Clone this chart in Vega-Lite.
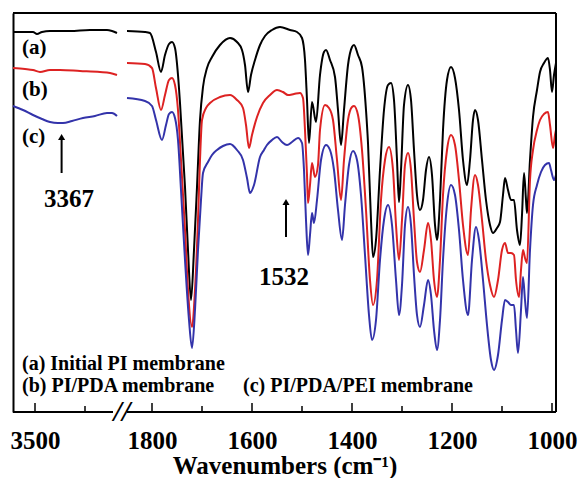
{
  "$schema": "https://vega.github.io/schema/vega-lite/v6.json",
  "width": 543,
  "height": 399,
  "autosize": "none",
  "padding": {"left": 13, "top": 13, "right": 28, "bottom": 66},
  "background": "white",
  "config": {"view": {"stroke": null}, "font": "Liberation Serif, Times New Roman, serif"},
  "datasets": {
    "one": [{}],
    "ticks": [{"v":3500,"k":"major"},{"v":3250,"k":"minor"},{"v":1800,"k":"major"},{"v":1700,"k":"minor"},{"v":1600,"k":"major"},{"v":1500,"k":"minor"},{"v":1400,"k":"major"},{"v":1300,"k":"minor"},{"v":1200,"k":"major"},{"v":1100,"k":"minor"},{"v":1000,"k":"major"}],
    "spec": [
      {"s":"a","g":"a1","w":3610,"t":380},{"s":"a","g":"a1","w":3575,"t":380},{"s":"a","g":"a1","w":3535,"t":380},{"s":"a","g":"a1","w":3510,"t":380},{"s":"a","g":"a1","w":3490,"t":378},{"s":"a","g":"a1","w":3465,"t":380},{"s":"a","g":"a1","w":3425,"t":381},{"s":"a","g":"a1","w":3325,"t":381},{"s":"a","g":"a1","w":3225,"t":382},{"s":"a","g":"a1","w":3140,"t":382},{"s":"a","g":"a1","w":3115,"t":381},{"s":"a","g":"a1","w":3090,"t":379},
      {"s":"b","g":"b1","w":3610,"t":344},{"s":"b","g":"b1","w":3550,"t":343},{"s":"b","g":"b1","w":3510,"t":342},{"s":"b","g":"b1","w":3475,"t":340},{"s":"b","g":"b1","w":3425,"t":342},{"s":"b","g":"b1","w":3375,"t":342},{"s":"b","g":"b1","w":3275,"t":341},{"s":"b","g":"b1","w":3175,"t":340},{"s":"b","g":"b1","w":3125,"t":339},{"s":"b","g":"b1","w":3090,"t":337},
      {"s":"c","g":"c1","w":3610,"t":306},{"s":"c","g":"c1","w":3560,"t":302},{"s":"c","g":"c1","w":3510,"t":297},{"s":"c","g":"c1","w":3465,"t":293},{"s":"c","g":"c1","w":3425,"t":290},{"s":"c","g":"c1","w":3385,"t":289},{"s":"c","g":"c1","w":3360,"t":289},{"s":"c","g":"c1","w":3315,"t":291},{"s":"c","g":"c1","w":3260,"t":294},{"s":"c","g":"c1","w":3200,"t":296},{"s":"c","g":"c1","w":3140,"t":299},{"s":"c","g":"c1","w":3115,"t":299},{"s":"c","g":"c1","w":3090,"t":296},

      {"s":"a","g":"a2","w":1850,"t":381},{"s":"a","g":"a2","w":1814,"t":380},{"s":"a","g":"a2","w":1804,"t":379},{"s":"a","g":"a2","w":1792,"t":360},{"s":"a","g":"a2","w":1782,"t":340},{"s":"a","g":"a2","w":1774,"t":357},{"s":"a","g":"a2","w":1766,"t":368},{"s":"a","g":"a2","w":1760,"t":370},{"s":"a","g":"a2","w":1754,"t":364},{"s":"a","g":"a2","w":1748,"t":337},{"s":"a","g":"a2","w":1744,"t":309},{"s":"a","g":"a2","w":1734,"t":225},{"s":"a","g":"a2","w":1728,"t":162},{"s":"a","g":"a2","w":1722,"t":112},{"s":"a","g":"a2","w":1716,"t":162},{"s":"a","g":"a2","w":1710,"t":225},{"s":"a","g":"a2","w":1704,"t":292},{"s":"a","g":"a2","w":1698,"t":325},{"s":"a","g":"a2","w":1690,"t":344},{"s":"a","g":"a2","w":1680,"t":355},{"s":"a","g":"a2","w":1664,"t":367},{"s":"a","g":"a2","w":1644,"t":374},{"s":"a","g":"a2","w":1630,"t":370},{"s":"a","g":"a2","w":1620,"t":362},{"s":"a","g":"a2","w":1614,"t":347},{"s":"a","g":"a2","w":1608,"t":320},{"s":"a","g":"a2","w":1602,"t":337},{"s":"a","g":"a2","w":1594,"t":352},{"s":"a","g":"a2","w":1584,"t":367},{"s":"a","g":"a2","w":1574,"t":376},{"s":"a","g":"a2","w":1560,"t":382},{"s":"a","g":"a2","w":1544,"t":385},{"s":"a","g":"a2","w":1524,"t":382},{"s":"a","g":"a2","w":1510,"t":380},{"s":"a","g":"a2","w":1500,"t":374},{"s":"a","g":"a2","w":1494,"t":352},{"s":"a","g":"a2","w":1490,"t":312},{"s":"a","g":"a2","w":1486,"t":269},{"s":"a","g":"a2","w":1480,"t":310},{"s":"a","g":"a2","w":1472,"t":290},{"s":"a","g":"a2","w":1464,"t":337},{"s":"a","g":"a2","w":1456,"t":360},{"s":"a","g":"a2","w":1452,"t":362},{"s":"a","g":"a2","w":1444,"t":352},{"s":"a","g":"a2","w":1434,"t":335},{"s":"a","g":"a2","w":1428,"t":302},{"s":"a","g":"a2","w":1422,"t":267},{"s":"a","g":"a2","w":1416,"t":302},{"s":"a","g":"a2","w":1408,"t":347},{"s":"a","g":"a2","w":1400,"t":365},{"s":"a","g":"a2","w":1396,"t":367},{"s":"a","g":"a2","w":1388,"t":357},{"s":"a","g":"a2","w":1380,"t":345},{"s":"a","g":"a2","w":1372,"t":302},{"s":"a","g":"a2","w":1368,"t":269},{"s":"a","g":"a2","w":1362,"t":192},{"s":"a","g":"a2","w":1358,"t":155},{"s":"a","g":"a2","w":1352,"t":172},{"s":"a","g":"a2","w":1344,"t":242},{"s":"a","g":"a2","w":1336,"t":302},{"s":"a","g":"a2","w":1328,"t":327},{"s":"a","g":"a2","w":1322,"t":329},{"s":"a","g":"a2","w":1316,"t":312},{"s":"a","g":"a2","w":1310,"t":252},{"s":"a","g":"a2","w":1306,"t":210},{"s":"a","g":"a2","w":1302,"t":242},{"s":"a","g":"a2","w":1296,"t":307},{"s":"a","g":"a2","w":1288,"t":327},{"s":"a","g":"a2","w":1282,"t":312},{"s":"a","g":"a2","w":1276,"t":262},{"s":"a","g":"a2","w":1270,"t":217},{"s":"a","g":"a2","w":1264,"t":202},{"s":"a","g":"a2","w":1258,"t":212},{"s":"a","g":"a2","w":1252,"t":242},{"s":"a","g":"a2","w":1246,"t":255},{"s":"a","g":"a2","w":1240,"t":237},{"s":"a","g":"a2","w":1234,"t":187},{"s":"a","g":"a2","w":1230,"t":172},{"s":"a","g":"a2","w":1224,"t":212},{"s":"a","g":"a2","w":1218,"t":282},{"s":"a","g":"a2","w":1210,"t":332},{"s":"a","g":"a2","w":1202,"t":345},{"s":"a","g":"a2","w":1194,"t":334},{"s":"a","g":"a2","w":1186,"t":302},{"s":"a","g":"a2","w":1178,"t":252},{"s":"a","g":"a2","w":1170,"t":227},{"s":"a","g":"a2","w":1164,"t":252},{"s":"a","g":"a2","w":1158,"t":292},{"s":"a","g":"a2","w":1154,"t":302},{"s":"a","g":"a2","w":1148,"t":292},{"s":"a","g":"a2","w":1140,"t":252},{"s":"a","g":"a2","w":1132,"t":212},{"s":"a","g":"a2","w":1124,"t":187},{"s":"a","g":"a2","w":1118,"t":179},{"s":"a","g":"a2","w":1110,"t":184},{"s":"a","g":"a2","w":1104,"t":190},{"s":"a","g":"a2","w":1098,"t":217},{"s":"a","g":"a2","w":1094,"t":234},{"s":"a","g":"a2","w":1088,"t":222},{"s":"a","g":"a2","w":1082,"t":212},{"s":"a","g":"a2","w":1076,"t":212},{"s":"a","g":"a2","w":1070,"t":182},{"s":"a","g":"a2","w":1064,"t":167},{"s":"a","g":"a2","w":1060,"t":197},{"s":"a","g":"a2","w":1056,"t":239},{"s":"a","g":"a2","w":1052,"t":212},{"s":"a","g":"a2","w":1050,"t":199},{"s":"a","g":"a2","w":1044,"t":252},{"s":"a","g":"a2","w":1038,"t":295},{"s":"a","g":"a2","w":1030,"t":322},{"s":"a","g":"a2","w":1024,"t":340},{"s":"a","g":"a2","w":1016,"t":349},{"s":"a","g":"a2","w":1008,"t":354},{"s":"a","g":"a2","w":1004,"t":342},{"s":"a","g":"a2","w":1000,"t":320},{"s":"a","g":"a2","w":996,"t":337},{"s":"a","g":"a2","w":992,"t":349},

      {"s":"b","g":"b2","w":1850,"t":349},{"s":"b","g":"b2","w":1814,"t":348},{"s":"b","g":"b2","w":1800,"t":344},{"s":"b","g":"b2","w":1792,"t":324},{"s":"b","g":"b2","w":1782,"t":302},{"s":"b","g":"b2","w":1774,"t":317},{"s":"b","g":"b2","w":1766,"t":332},{"s":"b","g":"b2","w":1760,"t":334},{"s":"b","g":"b2","w":1754,"t":327},{"s":"b","g":"b2","w":1748,"t":302},{"s":"b","g":"b2","w":1742,"t":252},{"s":"b","g":"b2","w":1734,"t":182},{"s":"b","g":"b2","w":1728,"t":122},{"s":"b","g":"b2","w":1720,"t":85},{"s":"b","g":"b2","w":1714,"t":122},{"s":"b","g":"b2","w":1708,"t":192},{"s":"b","g":"b2","w":1704,"t":252},{"s":"b","g":"b2","w":1700,"t":292},{"s":"b","g":"b2","w":1692,"t":304},{"s":"b","g":"b2","w":1684,"t":309},{"s":"b","g":"b2","w":1664,"t":315},{"s":"b","g":"b2","w":1644,"t":317},{"s":"b","g":"b2","w":1630,"t":312},{"s":"b","g":"b2","w":1618,"t":304},{"s":"b","g":"b2","w":1612,"t":287},{"s":"b","g":"b2","w":1606,"t":264},{"s":"b","g":"b2","w":1600,"t":277},{"s":"b","g":"b2","w":1590,"t":295},{"s":"b","g":"b2","w":1578,"t":309},{"s":"b","g":"b2","w":1564,"t":317},{"s":"b","g":"b2","w":1550,"t":322},{"s":"b","g":"b2","w":1538,"t":320},{"s":"b","g":"b2","w":1528,"t":317},{"s":"b","g":"b2","w":1516,"t":318},{"s":"b","g":"b2","w":1504,"t":319},{"s":"b","g":"b2","w":1498,"t":314},{"s":"b","g":"b2","w":1494,"t":282},{"s":"b","g":"b2","w":1490,"t":237},{"s":"b","g":"b2","w":1488,"t":209},{"s":"b","g":"b2","w":1484,"t":227},{"s":"b","g":"b2","w":1480,"t":249},{"s":"b","g":"b2","w":1474,"t":235},{"s":"b","g":"b2","w":1468,"t":247},{"s":"b","g":"b2","w":1464,"t":282},{"s":"b","g":"b2","w":1454,"t":307},{"s":"b","g":"b2","w":1446,"t":304},{"s":"b","g":"b2","w":1438,"t":292},{"s":"b","g":"b2","w":1430,"t":252},{"s":"b","g":"b2","w":1422,"t":212},{"s":"b","g":"b2","w":1416,"t":252},{"s":"b","g":"b2","w":1408,"t":292},{"s":"b","g":"b2","w":1400,"t":305},{"s":"b","g":"b2","w":1396,"t":306},{"s":"b","g":"b2","w":1388,"t":297},{"s":"b","g":"b2","w":1380,"t":262},{"s":"b","g":"b2","w":1372,"t":202},{"s":"b","g":"b2","w":1364,"t":132},{"s":"b","g":"b2","w":1358,"t":107},{"s":"b","g":"b2","w":1350,"t":132},{"s":"b","g":"b2","w":1342,"t":212},{"s":"b","g":"b2","w":1334,"t":252},{"s":"b","g":"b2","w":1326,"t":265},{"s":"b","g":"b2","w":1318,"t":242},{"s":"b","g":"b2","w":1312,"t":187},{"s":"b","g":"b2","w":1306,"t":152},{"s":"b","g":"b2","w":1300,"t":192},{"s":"b","g":"b2","w":1294,"t":247},{"s":"b","g":"b2","w":1288,"t":259},{"s":"b","g":"b2","w":1282,"t":242},{"s":"b","g":"b2","w":1276,"t":192},{"s":"b","g":"b2","w":1270,"t":150},{"s":"b","g":"b2","w":1264,"t":140},{"s":"b","g":"b2","w":1256,"t":162},{"s":"b","g":"b2","w":1248,"t":189},{"s":"b","g":"b2","w":1242,"t":172},{"s":"b","g":"b2","w":1236,"t":132},{"s":"b","g":"b2","w":1230,"t":115},{"s":"b","g":"b2","w":1224,"t":152},{"s":"b","g":"b2","w":1218,"t":217},{"s":"b","g":"b2","w":1210,"t":262},{"s":"b","g":"b2","w":1202,"t":277},{"s":"b","g":"b2","w":1194,"t":267},{"s":"b","g":"b2","w":1186,"t":232},{"s":"b","g":"b2","w":1178,"t":187},{"s":"b","g":"b2","w":1168,"t":157},{"s":"b","g":"b2","w":1162,"t":202},{"s":"b","g":"b2","w":1154,"t":237},{"s":"b","g":"b2","w":1148,"t":227},{"s":"b","g":"b2","w":1140,"t":192},{"s":"b","g":"b2","w":1132,"t":152},{"s":"b","g":"b2","w":1124,"t":127},{"s":"b","g":"b2","w":1116,"t":115},{"s":"b","g":"b2","w":1108,"t":132},{"s":"b","g":"b2","w":1100,"t":162},{"s":"b","g":"b2","w":1094,"t":169},{"s":"b","g":"b2","w":1088,"t":159},{"s":"b","g":"b2","w":1082,"t":159},{"s":"b","g":"b2","w":1076,"t":157},{"s":"b","g":"b2","w":1072,"t":132},{"s":"b","g":"b2","w":1066,"t":115},{"s":"b","g":"b2","w":1062,"t":142},{"s":"b","g":"b2","w":1058,"t":162},{"s":"b","g":"b2","w":1054,"t":154},{"s":"b","g":"b2","w":1050,"t":149},{"s":"b","g":"b2","w":1044,"t":232},{"s":"b","g":"b2","w":1038,"t":262},{"s":"b","g":"b2","w":1030,"t":282},{"s":"b","g":"b2","w":1024,"t":292},{"s":"b","g":"b2","w":1016,"t":298},{"s":"b","g":"b2","w":1008,"t":300},{"s":"b","g":"b2","w":1004,"t":287},{"s":"b","g":"b2","w":998,"t":264},{"s":"b","g":"b2","w":994,"t":277},{"s":"b","g":"b2","w":992,"t":282},

      {"s":"c","g":"c2","w":1850,"t":314},{"s":"c","g":"c2","w":1814,"t":311},{"s":"c","g":"c2","w":1800,"t":306},{"s":"c","g":"c2","w":1792,"t":292},{"s":"c","g":"c2","w":1780,"t":272},{"s":"c","g":"c2","w":1772,"t":287},{"s":"c","g":"c2","w":1766,"t":298},{"s":"c","g":"c2","w":1760,"t":300},{"s":"c","g":"c2","w":1754,"t":294},{"s":"c","g":"c2","w":1748,"t":272},{"s":"c","g":"c2","w":1742,"t":222},{"s":"c","g":"c2","w":1734,"t":152},{"s":"c","g":"c2","w":1726,"t":92},{"s":"c","g":"c2","w":1720,"t":64},{"s":"c","g":"c2","w":1714,"t":102},{"s":"c","g":"c2","w":1708,"t":162},{"s":"c","g":"c2","w":1702,"t":212},{"s":"c","g":"c2","w":1698,"t":239},{"s":"c","g":"c2","w":1688,"t":250},{"s":"c","g":"c2","w":1680,"t":257},{"s":"c","g":"c2","w":1670,"t":262},{"s":"c","g":"c2","w":1658,"t":266},{"s":"c","g":"c2","w":1644,"t":268},{"s":"c","g":"c2","w":1630,"t":262},{"s":"c","g":"c2","w":1618,"t":252},{"s":"c","g":"c2","w":1610,"t":234},{"s":"c","g":"c2","w":1604,"t":219},{"s":"c","g":"c2","w":1596,"t":227},{"s":"c","g":"c2","w":1584,"t":255},{"s":"c","g":"c2","w":1576,"t":262},{"s":"c","g":"c2","w":1570,"t":267},{"s":"c","g":"c2","w":1560,"t":272},{"s":"c","g":"c2","w":1550,"t":275},{"s":"c","g":"c2","w":1540,"t":270},{"s":"c","g":"c2","w":1530,"t":267},{"s":"c","g":"c2","w":1520,"t":270},{"s":"c","g":"c2","w":1508,"t":274},{"s":"c","g":"c2","w":1500,"t":269},{"s":"c","g":"c2","w":1496,"t":242},{"s":"c","g":"c2","w":1492,"t":192},{"s":"c","g":"c2","w":1488,"t":157},{"s":"c","g":"c2","w":1484,"t":177},{"s":"c","g":"c2","w":1480,"t":199},{"s":"c","g":"c2","w":1476,"t":189},{"s":"c","g":"c2","w":1470,"t":212},{"s":"c","g":"c2","w":1462,"t":252},{"s":"c","g":"c2","w":1452,"t":267},{"s":"c","g":"c2","w":1444,"t":262},{"s":"c","g":"c2","w":1436,"t":242},{"s":"c","g":"c2","w":1428,"t":202},{"s":"c","g":"c2","w":1420,"t":172},{"s":"c","g":"c2","w":1414,"t":207},{"s":"c","g":"c2","w":1406,"t":247},{"s":"c","g":"c2","w":1398,"t":261},{"s":"c","g":"c2","w":1390,"t":252},{"s":"c","g":"c2","w":1382,"t":217},{"s":"c","g":"c2","w":1374,"t":157},{"s":"c","g":"c2","w":1366,"t":97},{"s":"c","g":"c2","w":1360,"t":72},{"s":"c","g":"c2","w":1352,"t":92},{"s":"c","g":"c2","w":1344,"t":152},{"s":"c","g":"c2","w":1336,"t":192},{"s":"c","g":"c2","w":1328,"t":207},{"s":"c","g":"c2","w":1320,"t":187},{"s":"c","g":"c2","w":1312,"t":132},{"s":"c","g":"c2","w":1306,"t":97},{"s":"c","g":"c2","w":1300,"t":127},{"s":"c","g":"c2","w":1294,"t":187},{"s":"c","g":"c2","w":1288,"t":205},{"s":"c","g":"c2","w":1282,"t":187},{"s":"c","g":"c2","w":1276,"t":137},{"s":"c","g":"c2","w":1270,"t":97},{"s":"c","g":"c2","w":1264,"t":85},{"s":"c","g":"c2","w":1256,"t":107},{"s":"c","g":"c2","w":1248,"t":132},{"s":"c","g":"c2","w":1242,"t":117},{"s":"c","g":"c2","w":1236,"t":82},{"s":"c","g":"c2","w":1230,"t":62},{"s":"c","g":"c2","w":1224,"t":92},{"s":"c","g":"c2","w":1218,"t":152},{"s":"c","g":"c2","w":1210,"t":207},{"s":"c","g":"c2","w":1202,"t":227},{"s":"c","g":"c2","w":1194,"t":217},{"s":"c","g":"c2","w":1186,"t":182},{"s":"c","g":"c2","w":1178,"t":132},{"s":"c","g":"c2","w":1168,"t":97},{"s":"c","g":"c2","w":1160,"t":152},{"s":"c","g":"c2","w":1152,"t":185},{"s":"c","g":"c2","w":1146,"t":172},{"s":"c","g":"c2","w":1138,"t":132},{"s":"c","g":"c2","w":1130,"t":87},{"s":"c","g":"c2","w":1122,"t":52},{"s":"c","g":"c2","w":1116,"t":42},{"s":"c","g":"c2","w":1108,"t":57},{"s":"c","g":"c2","w":1100,"t":92},{"s":"c","g":"c2","w":1094,"t":112},{"s":"c","g":"c2","w":1088,"t":110},{"s":"c","g":"c2","w":1082,"t":107},{"s":"c","g":"c2","w":1076,"t":107},{"s":"c","g":"c2","w":1072,"t":82},{"s":"c","g":"c2","w":1068,"t":59},{"s":"c","g":"c2","w":1062,"t":102},{"s":"c","g":"c2","w":1058,"t":135},{"s":"c","g":"c2","w":1054,"t":112},{"s":"c","g":"c2","w":1050,"t":94},{"s":"c","g":"c2","w":1044,"t":162},{"s":"c","g":"c2","w":1038,"t":207},{"s":"c","g":"c2","w":1030,"t":227},{"s":"c","g":"c2","w":1022,"t":240},{"s":"c","g":"c2","w":1014,"t":247},{"s":"c","g":"c2","w":1006,"t":249},{"s":"c","g":"c2","w":1002,"t":242},{"s":"c","g":"c2","w":996,"t":232},{"s":"c","g":"c2","w":992,"t":237}
    ]
  },
  "layer": [
    {
      "data": {"name": "spec"},
      "mark": {"type": "line", "interpolate": "monotone", "strokeWidth": 2},
      "encoding": {
        "x": {
          "field": "w", "type": "quantitative",
          "scale": {"domain": [3610, 3090, 1850, 992], "range": [0, 104, 114, 543], "nice": false, "zero": false},
          "axis": {
            "values": [3500, 1800, 1600, 1400, 1200, 1000],
            "format": "d",
            "domain": false, "grid": false, "ticks": false,
            "labelFont": "Liberation Serif, Times New Roman, serif", "labelFontWeight": "bold", "labelFontSize": 25, "labelColor": "black",
            "labelPadding": 16, "labelFlush": false, "labelOverlap": false,
            "title": "Wavenumbers (cm⁻¹)",
            "titleFont": "Liberation Serif, Times New Roman, serif", "titleFontWeight": "bold", "titleFontSize": 25, "titleColor": "black", "titlePadding": 0
          }
        },
        "y": {
          "field": "t", "type": "quantitative",
          "scale": {"domain": [0, 399], "nice": false, "zero": false},
          "axis": {"domain": true, "domainColor": "black", "domainWidth": 2, "ticks": false, "labels": false, "grid": false, "title": null}
        },
        "color": {
          "field": "s", "type": "nominal",
          "scale": {"domain": ["a", "b", "c"], "range": ["#000000", "#dd2222", "#3333aa"]},
          "legend": null
        },
        "detail": {"field": "g", "type": "nominal"}
      }
    },
    {"data": {"name": "ticks"}, "transform": [{"filter": "datum.k == 'major'"}], "mark": {"type": "rule", "color": "black", "strokeWidth": 1.5}, "encoding": {"x": {"field": "v", "type": "quantitative"}, "y": {"datum": 0}, "y2": {"datum": 9}}},
    {"data": {"name": "ticks"}, "transform": [{"filter": "datum.k == 'minor'"}], "mark": {"type": "rule", "color": "black", "strokeWidth": 1.5}, "encoding": {"x": {"field": "v", "type": "quantitative"}, "y": {"datum": 0}, "y2": {"datum": 6}}},
    {"data": {"name": "one"}, "mark": {"type": "rule", "color": "black", "strokeWidth": 2}, "encoding": {"x": {"datum": 3610}, "x2": {"datum": 992}, "y": {"datum": 399}}},
    {"data": {"name": "one"}, "mark": {"type": "rule", "color": "black", "strokeWidth": 2}, "encoding": {"x": {"datum": 992}, "y": {"datum": 0}, "y2": {"datum": 399}}},
    {"data": {"name": "one"}, "mark": {"type": "rule", "color": "black", "strokeWidth": 2}, "encoding": {"x": {"datum": 3610}, "x2": {"datum": 3110}, "y": {"datum": 0}}},
    {"data": {"name": "one"}, "mark": {"type": "rule", "color": "black", "strokeWidth": 2}, "encoding": {"x": {"datum": 1850}, "x2": {"datum": 992}, "y": {"datum": 0}}},
    {"data": {"name": "one"}, "mark": {"type": "text", "text": "//", "font": "Liberation Serif, Times New Roman, serif", "fontSize": 30, "fontWeight": "bold", "fontStyle": "italic", "baseline": "middle", "align": "center"}, "encoding": {"x": {"datum": 2480}, "y": {"datum": 0}}},
    {"data": {"name": "one"}, "mark": {"type": "rule", "color": "black", "strokeWidth": 2}, "encoding": {"x": {"datum": 3367}, "y": {"datum": 239}, "y2": {"datum": 272}}},
    {"data": {"name": "one"}, "mark": {"type": "point", "shape": "triangle-up", "filled": true, "color": "black", "size": 50, "opacity": 1}, "encoding": {"x": {"datum": 3367}, "y": {"datum": 275}}},
    {"data": {"name": "one"}, "mark": {"type": "rule", "color": "black", "strokeWidth": 2}, "encoding": {"x": {"datum": 1532}, "y": {"datum": 175}, "y2": {"datum": 207}}},
    {"data": {"name": "one"}, "mark": {"type": "point", "shape": "triangle-up", "filled": true, "color": "black", "size": 50, "opacity": 1}, "encoding": {"x": {"datum": 1532}, "y": {"datum": 210}}},
    {"data": {"name": "one"}, "mark": {"type": "text", "text": "3367", "font": "Liberation Serif, Times New Roman, serif", "fontSize": 25, "fontWeight": "bold", "baseline": "middle", "align": "center"}, "encoding": {"x": {"datum": 3330}, "y": {"datum": 213}}},
    {"data": {"name": "one"}, "mark": {"type": "text", "text": "1532", "font": "Liberation Serif, Times New Roman, serif", "fontSize": 25, "fontWeight": "bold", "baseline": "middle", "align": "center"}, "encoding": {"x": {"datum": 1536}, "y": {"datum": 135}}},
    {"data": {"name": "one"}, "mark": {"type": "text", "text": "(a)", "font": "Liberation Serif, Times New Roman, serif", "fontSize": 21, "fontWeight": "bold", "baseline": "middle", "align": "left"}, "encoding": {"x": {"datum": 3565}, "y": {"datum": 364}}},
    {"data": {"name": "one"}, "mark": {"type": "text", "text": "(b)", "font": "Liberation Serif, Times New Roman, serif", "fontSize": 21, "fontWeight": "bold", "baseline": "middle", "align": "left"}, "encoding": {"x": {"datum": 3565}, "y": {"datum": 322}}},
    {"data": {"name": "one"}, "mark": {"type": "text", "text": "(c)", "font": "Liberation Serif, Times New Roman, serif", "fontSize": 21, "fontWeight": "bold", "baseline": "middle", "align": "left"}, "encoding": {"x": {"datum": 3565}, "y": {"datum": 275}}},
    {"data": {"name": "one"}, "mark": {"type": "text", "text": "(a) Initial PI membrane", "font": "Liberation Serif, Times New Roman, serif", "fontSize": 20, "fontWeight": "bold", "baseline": "middle", "align": "left"}, "encoding": {"x": {"datum": 3565}, "y": {"datum": 48}}},
    {"data": {"name": "one"}, "mark": {"type": "text", "text": "(b) PI/PDA membrane", "font": "Liberation Serif, Times New Roman, serif", "fontSize": 20, "fontWeight": "bold", "baseline": "middle", "align": "left"}, "encoding": {"x": {"datum": 3565}, "y": {"datum": 26}}},
    {"data": {"name": "one"}, "mark": {"type": "text", "text": "(c) PI/PDA/PEI membrane", "font": "Liberation Serif, Times New Roman, serif", "fontSize": 20, "fontWeight": "bold", "baseline": "middle", "align": "left"}, "encoding": {"x": {"datum": 1618}, "y": {"datum": 26}}}
  ]
}
